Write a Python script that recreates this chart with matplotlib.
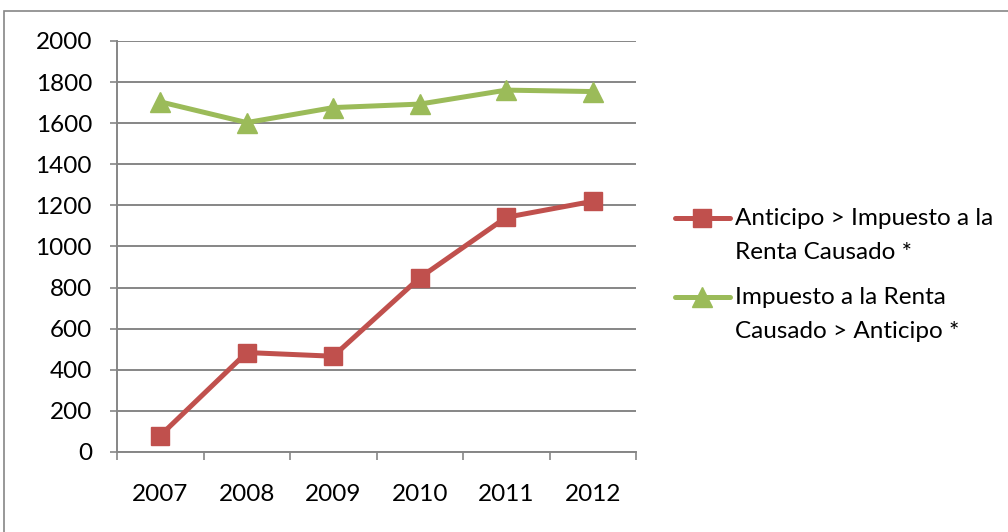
import matplotlib
matplotlib.use("Agg")
import matplotlib.pyplot as plt
from matplotlib.patches import Rectangle
from matplotlib.lines import Line2D

years = ["2007", "2008", "2009", "2010", "2011", "2012"]
anticipo_mayor = [80, 484, 466, 848, 1142, 1220]
impuesto_mayor = [1704, 1603, 1676, 1693, 1761, 1754]
labels = ["Anticipo > Impuesto a la\nRenta Causado *",
          "Impuesto a la Renta\nCausado > Anticipo *"]

plt.rcParams["font.family"] = ["Lato", "DejaVu Sans"]
grid_color = "#868686"
colors = ["#C0504D", "#9BBB59"]
markers = ["s", "^"]
W, H = 1008, 532

fig = plt.figure(figsize=(W / 100, H / 100), dpi=100)
ax = fig.add_axes([117 / W, 1 - 452 / H, (636 - 117) / W, (452 - 41) / H])

# outer chart border
fig.patches.append(Rectangle((4 / W, -0.1), 1.2, 1.1 - 11 / H,
                             transform=fig.transFigure, fill=False,
                             edgecolor=grid_color, linewidth=1.2))

x = list(range(len(years)))
for values, color, marker, label in zip([anticipo_mayor, impuesto_mayor],
                                        colors, markers, labels):
    ax.plot(x, values, color=color, linewidth=3.6, marker=marker,
            markersize=13.5 if marker == "s" else 14, label=label,
            solid_joinstyle="round")

ax.set_xlim(-0.5, len(years) - 0.5)
ax.set_ylim(0, 2000)
ax.set_yticks(range(0, 2001, 200))
ax.yaxis.grid(True, color=grid_color, linewidth=1.4)
ax.set_axisbelow(True)

ax.set_xticks(x)
ax.set_xticklabels(years)
ax.set_xticks([i - 0.5 for i in range(len(years) + 1)], minor=True)
ax.tick_params(axis="x", which="major", length=0, pad=23, labelsize=17.5)
ax.tick_params(axis="x", which="minor", length=6, width=1.2, color=grid_color)
ax.tick_params(axis="y", length=5, width=1.2, color=grid_color, pad=13,
               labelsize=17.5)

for side in ["top", "right"]:
    ax.spines[side].set_visible(False)
for side in ["left", "bottom"]:
    ax.spines[side].set_color(grid_color)
    ax.spines[side].set_linewidth(1.4)

# legend, handle aligned with the first line of each label
for i, (color, marker, label) in enumerate(zip(colors, markers, labels)):
    y = 1 - (218 + 79 * i) / H
    fig.add_artist(Line2D([675 / W, 730 / W], [y, y], color=color,
                          linewidth=3.6, solid_capstyle="round"))
    fig.add_artist(Line2D([702 / W], [y], color=color, marker=marker,
                          markersize=13.5 if marker == "s" else 14))
    fig.text(735 / W, y + 10 / H, label, fontsize=17.5, va="top",
             ha="left", linespacing=1.75)

fig.savefig("out.png", dpi=100)
